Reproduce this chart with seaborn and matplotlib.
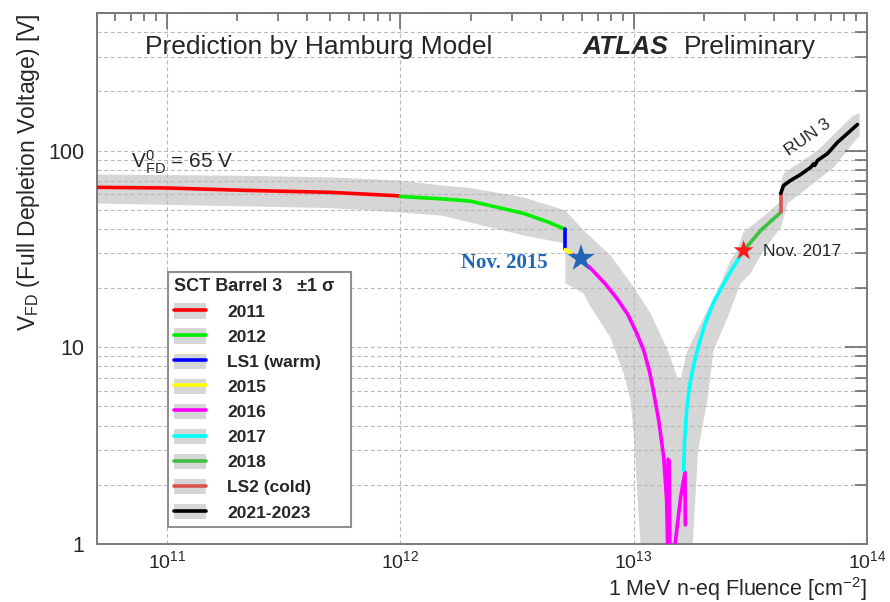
import numpy as np
import matplotlib
matplotlib.use("Agg")
import matplotlib.pyplot as plt
from matplotlib.lines import Line2D
from matplotlib.patches import Patch
from matplotlib.ticker import LogLocator, NullFormatter, FixedLocator, FixedFormatter
import seaborn as sns

sns.set_theme(style="white")
plt.rcParams["font.family"] = ["Liberation Sans", "DejaVu Sans"]
plt.rcParams["mathtext.fontset"] = "custom"
plt.rcParams["mathtext.rm"] = "Liberation Sans"
plt.rcParams["mathtext.it"] = "Liberation Sans:italic"
plt.rcParams["mathtext.bf"] = "Liberation Sans:bold"

# ---- Hamburg model prediction, one piece per running period ----
fluence_2011 = [5e10, 1e11, 2.2e11, 5e11, 9.7e11, 1e12]
vfd_2011 = [65, 64.5, 62.7, 61.3, 58.9, 58.4]

fluence_2012 = [1e12, 1.5e12, 2e12, 3.38e12, 4.3e12, 5.1e12]
vfd_2012 = [58.4, 56.8, 55.3, 47.9, 43.3, 39.7]

fluence_ls1 = [5.1e12, 5.1e12]
vfd_ls1 = [39.7, 31.4]

fluence_2015 = [5.1e12, 5.5e12]
vfd_2015 = [31.4, 29.5]

fluence_2016 = [5.5e12, 6.0e12, 6.54e12, 7.59e12, 8.54e12, 9.43e12, 1.03e13, 1.104e13,
                1.171e13, 1.218e13, 1.28e13, 1.345e13, 1.385e13, 1.40e13,
                1.405e13, 1.42e13, 1.43e13, 1.49e13, 1.59e13, 1.66e13, 1.665e13]
vfd_2016 = [29.5, 27.4, 25.2, 20.9, 17.5, 14.7, 11.8, 9.66,
            7.47, 5.91, 4.26, 2.77, 1.67, 0.9,
            2.7, 2.65, 0.9, 0.9, 1.73, 2.32, 1.25]

fluence_2017 = [1.637e13, 1.654e13, 1.687e13, 1.737e13, 1.807e13, 1.898e13, 2.034e13,
                2.201e13, 2.406e13, 2.655e13, 2.96e13]
vfd_2017 = [2.37, 3.37, 4.79, 6.41, 8.10, 10.24, 13.4, 16.9, 20.6, 25.2, 31.0]

fluence_2018 = [2.96e13, 3.5e13, 4.27e13]
vfd_2018 = [31.0, 39.2, 48.5]

fluence_ls2 = [4.27e13, 4.27e13]
vfd_ls2 = [48.5, 60.5]

fluence_run3 = [4.27e13, 4.39e13, 4.70e13, 5.19e13, 5.73e13, 5.9e13, 5.97e13,
                6.14e13, 6.78e13, 7.47e13, 8.24e13, 9.1e13]
vfd_run3 = [60.5, 66.4, 70.4, 75.5, 82.0, 85.5, 84.0, 89.0, 96.6, 110, 122, 135.6]

# ---- +/- 1 sigma band (upper and lower edge) ----
band_upper_fluence = [5e10, 2e11, 5e11, 1e12, 1.5e12, 2e12, 3.38e12, 5.1e12, 6.1e12,
                      7.96e12, 1.0e13, 1.18e13, 1.40e13, 1.54e13, 1.59e13, 1.70e13,
                      1.94e13, 2.29e13, 2.6e13, 2.79e13, 2.9e13, 2.96e13, 3.75e13,
                      4.25e13, 4.27e13, 4.39e13, 6.14e13, 8.7e13, 9.3e13]
band_upper_vfd = [75.5, 74.5, 73, 70.4, 66.4, 64.5, 57.7, 49.6, 39.3,
                  29.3, 20.2, 14.9, 9.66, 7.04, 6.96, 9.66,
                  13.2, 19.5, 27.5, 31.5, 36, 38.5, 48,
                  55.0, 68.0, 76.4, 100, 150, 155]

band_lower_fluence = [5e10, 5e11, 1e12, 1.5e12, 3.38e12, 5.1e12, 5.1e12, 6.1e12, 6.55e12,
                      7.96e12, 9.06e12, 9.7e12, 1.0e13, 1.07e13, 1.09e13, 1.75e13,
                      1.79e13, 1.89e13, 2.07e13, 2.2e13, 2.53e13, 2.87e13, 3.17e13,
                      3.6e13, 4.27e13, 4.57e13, 7.2e13, 9.1e13, 9.3e13]
band_lower_vfd = [53.8, 51, 48.4, 46.7, 37, 33.7, 21.1, 18.8, 16,
                  11.2, 7.38, 5.38, 3.66, 1.0, 0.5, 0.5,
                  1.0, 3.0, 5.38, 9.66, 14.2, 21.1, 23.7,
                  31, 40.6, 53.8, 82, 116, 118]

# ---- reference points ----
star_2015 = (5.95e12, 28.3)
star_2017 = (2.96e13, 31.0)

period_labels = ["2011", "2012", "LS1 (warm)", "2015", "2016", "2017", "2018",
                 "LS2 (cold)", "2021-2023"]
period_colors = ["#ff0000", "#00ee00", "#0000ff", "#ffff00", "#ff00ff", "#00ffff",
                 "#3fbf3f", "#d9534f", "#000000"]
period_fluence = [fluence_2011, fluence_2012, fluence_ls1, fluence_2015, fluence_2016,
                  fluence_2017, fluence_2018, fluence_ls2, fluence_run3]
period_vfd = [vfd_2011, vfd_2012, vfd_ls1, vfd_2015, vfd_2016,
              vfd_2017, vfd_2018, vfd_ls2, vfd_run3]

band_color = "#d6d6d6"
frame_color = "#7a7a7a"

W, H = 890, 602
fig = plt.figure(figsize=(W / 100, H / 100), dpi=100)
ax_l, ax_r, ax_t, ax_b = 96.7, 867.0, 13.0, 544.0
ax = fig.add_axes([ax_l / W, 1 - ax_b / H, (ax_r - ax_l) / W, (ax_b - ax_t) / H])

ax.set_xscale("log")
ax.set_yscale("log")
ax.set_xlim(5e10, 1e14)
ax.set_ylim(1, 500)

# uncertainty band
poly_x = np.r_[band_upper_fluence, band_lower_fluence[::-1]]
poly_y = np.r_[band_upper_vfd, band_lower_vfd[::-1]]
ax.fill(poly_x, poly_y, color=band_color, lw=0, zorder=1)

# central prediction
for xs, ys, c in zip(period_fluence, period_vfd, period_colors):
    sns.lineplot(x=xs, y=ys, ax=ax, color=c, lw=2.6, sort=False, estimator=None,
                 legend=False, zorder=3)

sns.scatterplot(x=[star_2015[0]], y=[star_2015[1]], ax=ax, marker="*", s=420,
                color="#1f66b4", edgecolor="none", zorder=5, legend=False)
sns.scatterplot(x=[star_2017[0]], y=[star_2017[1]], ax=ax, marker="*", s=230,
                color="#ff1a1a", edgecolor="none", zorder=5, legend=False)

# axes decoration
ax.set_axisbelow("line")
ax.xaxis.set_major_locator(FixedLocator([1e11, 1e12, 1e13, 1e14]))
ax.xaxis.set_minor_locator(LogLocator(base=10, subs=np.arange(2, 10), numticks=20))
ax.xaxis.set_minor_formatter(NullFormatter())
ax.yaxis.set_major_locator(FixedLocator([1, 10, 100]))
ax.yaxis.set_major_formatter(FixedFormatter(["1", "10", "100"]))
ax.yaxis.set_minor_locator(LogLocator(base=10, subs=np.arange(2, 10), numticks=20))
ax.yaxis.set_minor_formatter(NullFormatter())

grid_style = dict(color="#b8b8b8", lw=0.8, ls=(0, (3.5, 2.5)))
ax.grid(True, axis="x", which="major", **grid_style)
ax.grid(True, axis="y", which="both", **grid_style)

for s in ax.spines.values():
    s.set_color(frame_color)
    s.set_linewidth(1.4)

ax.tick_params(axis="both", which="both", direction="in", top=True, right=True,
               color="#606060", width=1.1)
ax.tick_params(axis="x", which="major", length=11.5, labelsize=14, pad=4.5)
ax.tick_params(axis="x", which="minor", length=6)
ax.tick_params(axis="y", which="major", length=16, labelsize=15.5, pad=9)
ax.tick_params(axis="y", which="minor", length=8.5)

ax.set_xlabel(r"1 MeV n-eq Fluence [cm$^{-2}$]", fontsize=15.5, loc="right")
ax.xaxis.set_label_coords(1.0, -(596 - ax_b) / (ax_b - ax_t))
ax.xaxis.label.set_va("baseline")
ax.set_ylabel(r"V$_{\mathrm{FD}}$ (Full Depletion Voltage) [V]", fontsize=16.5, loc="top")
ax.yaxis.set_label_coords(-(ax_l - 29) / (ax_r - ax_l), 1.0)
ax.yaxis.label.set_va("center")


def axfrac(px, py):
    return ((px - ax_l) / (ax_r - ax_l), (ax_b - py) / (ax_b - ax_t))


ax.text(*axfrac(145, 47), "Prediction by Hamburg Model", transform=ax.transAxes,
        fontsize=19, ha="left", va="center")
ax.text(*axfrac(583, 47), "ATLAS", transform=ax.transAxes, fontsize=19,
        fontweight="bold", fontstyle="italic", ha="left", va="center")
ax.text(*axfrac(684, 47), "Preliminary", transform=ax.transAxes, fontsize=19,
        ha="left", va="center")
ax.text(*axfrac(131, 168), r"V$^{0}_{\mathrm{FD}}$ = 65 V", transform=ax.transAxes,
        fontsize=15, ha="left", va="baseline")
ax.text(*axfrac(461, 268), "Nov. 2015", transform=ax.transAxes, fontsize=15,
        family=["Liberation Serif", "DejaVu Serif"], fontweight="bold",
        color="#1f66b4", ha="left", va="baseline")
ax.text(*axfrac(763, 256), "Nov. 2017", transform=ax.transAxes, fontsize=12.5,
        ha="left", va="baseline")
ax.text(*axfrac(808, 137), "RUN 3", transform=ax.transAxes, fontsize=12.5,
        rotation=35, ha="center", va="center", rotation_mode="anchor")

# legend: grey band behind each coloured line
handles = [(Patch(facecolor=band_color, edgecolor="none"), Line2D([], [], color=c, lw=2.6))
           for c in period_colors]
leg = ax.legend(handles, period_labels, loc="upper left",
                bbox_to_anchor=(168 / W, 1 - 272 / H), bbox_transform=fig.transFigure,
                borderaxespad=0, borderpad=0.35, frameon=True, fancybox=False,
                framealpha=1, edgecolor="#909090", facecolor="white",
                prop={"weight": "bold", "size": 12.5},
                title="SCT Barrel 3   \u00b11 \u03c3  ",
                title_fontproperties={"weight": "bold", "size": 13},
                alignment="left", handlelength=1.85, handleheight=1.0,
                handletextpad=1.2, labelspacing=0.48)
leg.get_frame().set_linewidth(1.5)

fig.savefig("out.png", dpi=100)
